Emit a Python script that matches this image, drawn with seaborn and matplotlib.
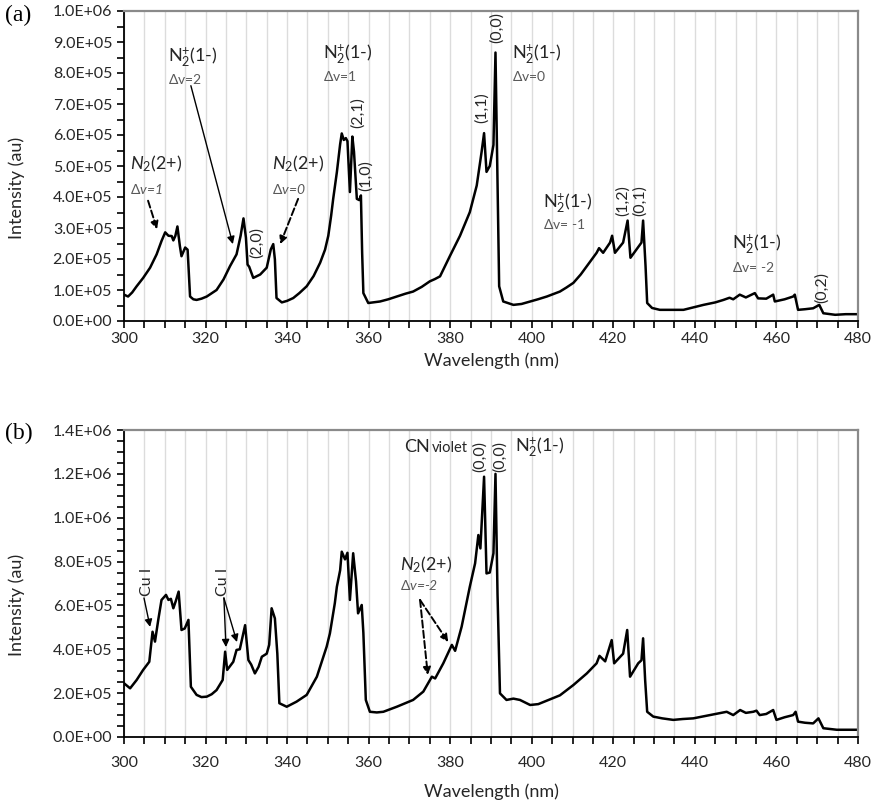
import numpy as np
import pandas as pd
import seaborn as sns
import matplotlib.pyplot as plt
from matplotlib.ticker import MultipleLocator, FuncFormatter

# spectrum (a): wavelength (nm) and intensity (x1e5 au)
wl_a = [300.0, 301.0, 302.0, 303.1, 304.7, 306.4, 308.0, 309.2, 310.1, 310.9, 311.7, 312.1, 312.6, 313.1,
        313.7, 314.1, 315.0, 315.6, 316.2, 317.0, 317.8, 319.0, 320.3, 322.7, 324.4, 326.0, 327.6, 328.6,
        329.3, 329.9, 330.3, 330.7, 331.7, 333.4, 335.0, 336.0, 336.6, 337.0, 337.4, 338.7, 340.0, 341.5,
        343.0, 344.8, 346.5, 348.1, 349.3, 350.1, 350.8, 351.3, 352.2, 353.0, 353.4, 353.9, 354.4, 354.8,
        355.4, 356.0, 356.4, 357.1, 357.7, 358.1, 358.4, 358.7, 359.9, 361.0, 362.8, 364.8, 366.9, 369.0,
        370.9, 373.0, 375.0, 376.2, 377.5, 379.9, 382.4, 384.8, 386.5, 387.7, 388.3, 388.9, 389.7, 390.6,
        391.1, 391.6, 392.0, 393.0, 395.5, 397.5, 399.6, 401.5, 403.7, 405.5, 406.9, 408.5, 410.2, 412.0,
        413.5, 415.9, 416.5, 417.5, 419.2, 419.7, 420.4, 422.4, 423.5, 424.2, 425.7, 426.9, 427.3, 427.9,
        428.3, 429.5, 431.4, 434.0, 437.2, 440.0, 442.1, 445.0, 447.0, 448.5, 449.4, 451.0, 452.5, 454.7,
        455.5, 457.5, 459.2, 459.6, 462.0, 464.1, 464.5, 465.3, 467.0, 469.0, 470.5, 471.5, 474.4, 477.0,
        480.0]
int_a = [0.85, 0.79, 0.92, 1.12, 1.39, 1.72, 2.15, 2.58, 2.86, 2.75, 2.74, 2.60, 2.75, 3.05,
         2.42, 2.09, 2.37, 2.30, 0.79, 0.70, 0.68, 0.72, 0.79, 1.00, 1.34, 1.77, 2.15, 2.75,
         3.31, 2.69, 1.82, 1.75, 1.39, 1.50, 1.72, 2.31, 2.48, 1.99, 0.74, 0.60, 0.65, 0.74,
         0.90, 1.12, 1.45, 1.88, 2.30, 2.75, 3.40, 3.94, 4.80, 5.70, 6.05, 5.84, 5.90, 5.80,
         4.16, 5.95, 5.46, 3.94, 3.90, 4.05, 2.20, 0.90, 0.58, 0.60, 0.63, 0.70, 0.79, 0.88,
         0.95, 1.10, 1.28, 1.35, 1.44, 2.09, 2.75, 3.51, 4.37, 5.46, 6.06, 4.81, 5.00, 5.68,
         8.66, 4.37, 1.12, 0.63, 0.52, 0.55, 0.63, 0.70, 0.79, 0.88, 0.95, 1.08, 1.23, 1.50,
         1.77, 2.20, 2.35, 2.20, 2.53, 2.75, 2.20, 2.53, 3.24, 2.04, 2.31, 2.53, 3.24, 1.77,
         0.58, 0.42, 0.36, 0.36, 0.36, 0.45, 0.52, 0.60, 0.68, 0.75, 0.70, 0.85, 0.76, 0.90,
         0.73, 0.72, 0.85, 0.63, 0.70, 0.79, 0.85, 0.36, 0.38, 0.41, 0.52, 0.25, 0.20, 0.22,
         0.22]

# spectrum (b): wavelength (nm) and intensity (x1e5 au)
wl_b = [300.0, 301.5, 303.1, 304.7, 306.2, 306.6, 307.0, 307.6, 308.4, 309.2, 310.3, 310.9, 311.5, 312.1,
        312.7, 313.4, 314.1, 314.9, 315.8, 316.4, 317.8, 319.0, 320.3, 321.5, 322.7, 324.2, 324.8, 325.3,
        326.8, 327.6, 328.4, 329.7, 330.5, 331.2, 332.1, 333.0, 333.8, 335.0, 335.6, 336.2, 337.0, 337.6,
        338.1, 339.9, 342.3, 344.8, 347.3, 349.7, 350.5, 351.7, 352.2, 353.0, 353.4, 354.2, 354.8, 355.4,
        356.2, 356.9, 357.4, 358.3, 358.7, 359.3, 360.3, 362.0, 363.6, 366.9, 370.9, 373.4, 375.5, 376.3,
        378.3, 380.4, 381.2, 382.8, 384.8, 386.1, 386.9, 387.4, 388.3, 388.9, 389.7, 390.6, 391.1, 391.6,
        392.2, 393.8, 395.5, 397.1, 399.6, 401.6, 404.0, 406.9, 410.2, 413.5, 415.9, 416.6, 418.0, 419.6,
        420.2, 422.4, 423.4, 424.1, 426.1, 426.9, 427.3, 427.8, 428.3, 429.8, 432.0, 434.7, 437.0, 439.6,
        443.7, 447.8, 449.4, 451.1, 452.5, 454.3, 455.1, 455.9, 457.5, 459.2, 460.0, 462.0, 464.1, 464.7,
        465.3, 467.0, 469.0, 470.3, 471.5, 474.8, 480.0]
int_b = [2.45, 2.22, 2.60, 3.06, 3.43, 4.12, 4.80, 4.35, 5.34, 6.25, 6.48, 6.25, 6.30, 5.87,
         6.20, 6.63, 4.88, 4.95, 5.34, 2.29, 1.92, 1.82, 1.84, 1.95, 2.14, 2.60, 3.89, 3.06,
         3.43, 3.97, 4.00, 5.10, 3.51, 3.30, 2.90, 3.20, 3.66, 3.80, 4.20, 5.87, 5.41, 3.80,
         1.54, 1.38, 1.61, 1.92, 2.75, 4.12, 4.73, 6.10, 6.85, 7.60, 8.45, 8.10, 8.40, 6.25,
         8.38, 7.10, 5.64, 6.02, 4.75, 1.69, 1.15, 1.12, 1.15, 1.38, 1.69, 2.07, 2.75, 2.67,
         3.36, 4.20, 3.93, 5.03, 6.85, 7.92, 9.21, 8.60, 11.87, 7.46, 7.50, 8.38, 12.0, 6.50,
         1.99, 1.69, 1.75, 1.69, 1.46, 1.50, 1.68, 1.90, 2.37, 2.90, 3.36, 3.70, 3.45, 4.42,
         3.36, 3.80, 4.88, 2.75, 3.36, 3.50, 4.50, 2.60, 1.15, 0.93, 0.85, 0.78, 0.82, 0.85,
         1.00, 1.15, 1.00, 1.23, 1.10, 1.15, 1.20, 1.00, 1.05, 1.23, 0.78, 0.90, 1.00, 1.15,
         0.70, 0.65, 0.62, 0.85, 0.40, 0.33, 0.33]

x_ticks = [300, 320, 340, 360, 380, 400, 420, 440, 460, 480]

sns.set_theme(style='ticks')
plt.rcParams['font.family'] = ['Lato', 'DejaVu Sans']
plt.rcParams['mathtext.fontset'] = 'custom'
plt.rcParams['mathtext.rm'] = 'Lato'
plt.rcParams['mathtext.it'] = 'Lato:italic'

TXT = '#262626'
DV = '#595959'

fig = plt.figure(figsize=(8.77, 8.09), dpi=100)
W, H = 877, 809
ax_a = fig.add_axes([124 / W, 1 - 321 / H, 734 / W, 310 / H])
ax_b = fig.add_axes([124 / W, 1 - 737 / H, 734 / W, 307 / H])

df_a = pd.DataFrame({'wl': wl_a, 'I': np.array(int_a) * 1e5})
df_b = pd.DataFrame({'wl': wl_b, 'I': np.array(int_b) * 1e5})
sns.lineplot(data=df_a, x='wl', y='I', ax=ax_a, color='black', lw=1.8, estimator=None)
sns.lineplot(data=df_b, x='wl', y='I', ax=ax_b, color='black', lw=1.8, estimator=None)


def style_axes(ax, ymax, tickpad):
    ax.set_xlim(300, 480)
    ax.set_ylim(0, ymax)
    ax.set_xticks(x_ticks)
    ax.xaxis.set_minor_locator(MultipleLocator(5))
    ax.yaxis.set_major_locator(MultipleLocator(ymax / 10 if ymax == 1e6 else 2e5))
    ax.yaxis.set_minor_locator(MultipleLocator(5e4))
    ax.yaxis.set_major_formatter(FuncFormatter(lambda v, p: '{:.1E}'.format(v)))
    ax.grid(False)
    ax.xaxis.grid(True, which='both', color='#dcdcdc', lw=1.0)
    ax.set_axisbelow(True)
    ax.tick_params(axis='both', which='both', direction='out', length=5, width=1.2,
                   color='black', labelsize=11.5, labelcolor=TXT)
    ax.tick_params(axis='x', which='major', pad=tickpad)
    for s in ['top', 'right']:
        ax.spines[s].set_color('#8a8a8a')
        ax.spines[s].set_linewidth(1.6)
    for s in ['left', 'bottom']:
        ax.spines[s].set_color('black')
        ax.spines[s].set_linewidth(1.3)
    ax.set_ylabel('Intensity (au)', fontsize=13, color=TXT)
    ax.set_xlabel('Wavelength (nm)', fontsize=13, color=TXT)
    ax.yaxis.set_label_coords(-0.135, 0.43)


style_axes(ax_a, 1e6, 3)
style_axes(ax_b, 1.4e6, 9)
ax_a.xaxis.set_label_coords(0.5, -0.10)
ax_b.xaxis.set_label_coords(0.5, -0.15)

N2P = r'N$_2^{+}$(1-)'
N2S = r'$\mathit{N_2(2{+})}$'


def band(ax, x, y, name, dv, dvy, italic=False):
    ax.text(x, y, name, fontsize=13, color=TXT, ha='left', va='center')
    ax.text(x, dvy, dv, fontsize=10, color=DV, ha='left', va='center',
            style='italic' if italic else 'normal')


def vib(ax, x, y, s):
    ax.text(x, y, s, fontsize=11.5, color=TXT, rotation=90, ha='center', va='center')


def arrow(ax, start, end, dashed=True):
    ax.annotate('', xy=end, xytext=start,
                arrowprops=dict(arrowstyle='-|>', color='black', lw=1.4 if dashed else 1.0,
                                linestyle='--' if dashed else '-', mutation_scale=11,
                                shrinkA=0, shrinkB=0))


# panel (a) annotations
band(ax_a, 301.5, 5.08e5, N2S, r'$\Delta$v=1', 4.27e5, italic=True)
arrow(ax_a, (305.9, 3.88e5), (308.1, 2.96e5))
band(ax_a, 310.8, 8.5e5, N2P, r'$\Delta$v=2', 7.82e5)
arrow(ax_a, (316.4, 7.59e5), (326.7, 2.48e5), dashed=False)
vib(ax_a, 332.6, 2.54e5, '(2,0)')
band(ax_a, 336.3, 5.08e5, N2S, r'$\Delta$v=0', 4.27e5, italic=True)
arrow(ax_a, (342.7, 3.94e5), (338.3, 2.48e5))
band(ax_a, 348.8, 8.6e5, N2P, r'$\Delta$v=1', 7.91e5)
vib(ax_a, 357.4, 6.71e5, '(2,1)')
vib(ax_a, 359.3, 4.69e5, '(1,0)')
vib(ax_a, 387.8, 6.87e5, '(1,1)')
vib(ax_a, 391.5, 9.48e5, '(0,0)')
band(ax_a, 395.1, 8.6e5, N2P, r'$\Delta$v=0', 7.91e5)
band(ax_a, 402.7, 3.81e5, N2P, r'$\Delta$v= -1', 3.13e5)
vib(ax_a, 422.4, 3.88e5, '(1,2)')
vib(ax_a, 426.5, 3.88e5, '(0,1)')
band(ax_a, 449.1, 2.48e5, N2P, r'$\Delta$v= -2', 1.73e5)
vib(ax_a, 471.2, 1.07e5, '(0,2)')

# panel (b) annotations
vib(ax_b, 305.6, 7.07e5, 'Cu I')
arrow(ax_b, (304.9, 6.34e5), (306.4, 5.02e5), dashed=False)
vib(ax_b, 324.3, 7.07e5, 'Cu I')
arrow(ax_b, (324.5, 6.34e5), (325.0, 4.10e5), dashed=False)
arrow(ax_b, (324.5, 6.34e5), (327.7, 4.33e5), dashed=False)
ax_b.text(371.8, 1.322e6, 'CN', fontsize=13, color=TXT, ha='center', va='center')
ax_b.text(379.9, 1.318e6, 'violet', fontsize=10.5, color=TXT, ha='center', va='center')
vib(ax_b, 387.3, 1.277e6, '(0,0)')
vib(ax_b, 392.2, 1.277e6, '(0,0)')
ax_b.text(395.9, 1.322e6, N2P, fontsize=13, color=TXT, ha='left', va='center')
band(ax_b, 367.7, 7.84e5, N2S, r'$\Delta$v=-2', 6.93e5, italic=True)
arrow(ax_b, (372.6, 6.25e5), (374.5, 2.83e5))
arrow(ax_b, (372.6, 6.25e5), (379.5, 4.33e5))

fig.text(5 / W, 1 - 15 / H, '(a)', fontsize=17, family='Liberation Serif', va='center', color='black')
fig.text(5 / W, 1 - 433 / H, '(b)', fontsize=17, family='Liberation Serif', va='center', color='black')

fig.savefig('out.png', dpi=100)
